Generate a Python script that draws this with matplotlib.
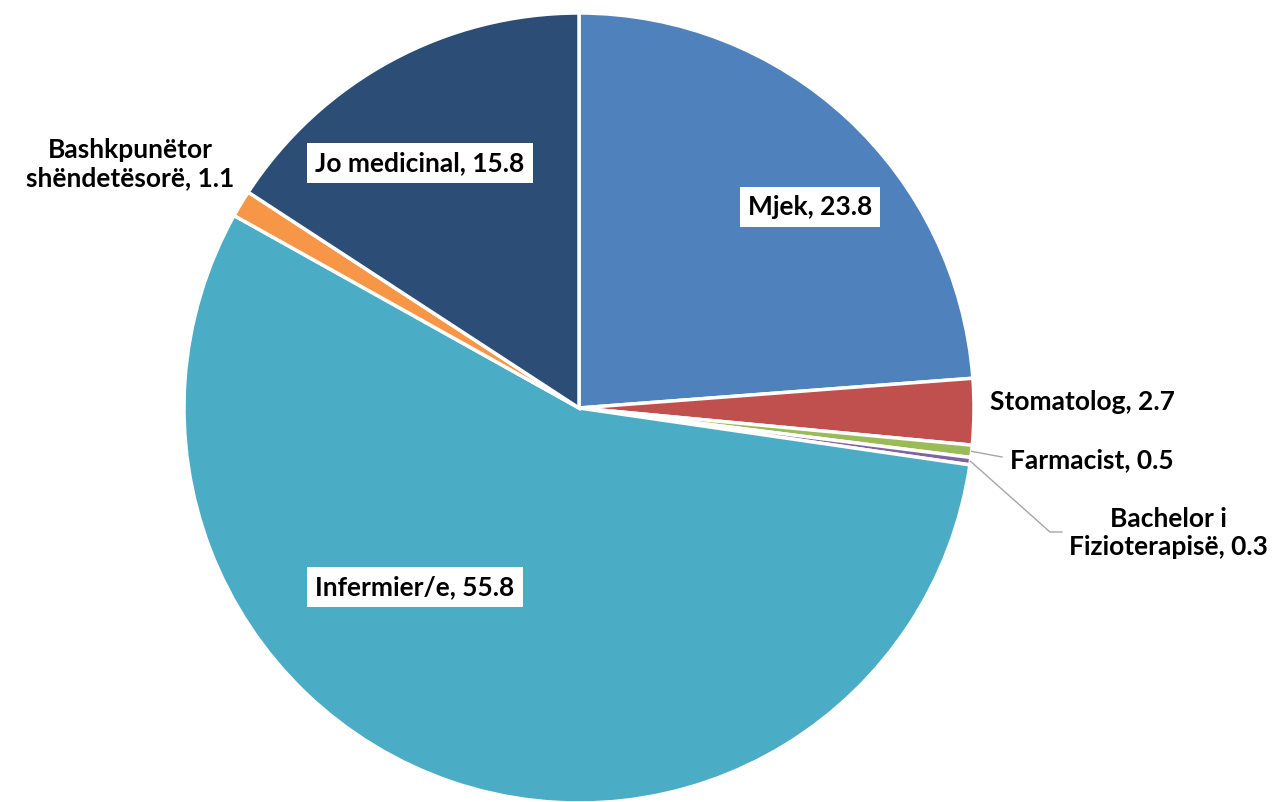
import numpy as np
import matplotlib
matplotlib.use('Agg')
import matplotlib.pyplot as plt

# data
labels = ['Mjek', 'Stomatolog', 'Farmacist', 'Bachelor i\nFizioterapisë',
          'Infermier/e', 'Bashkpunëtor\nshëndetësorë', 'Jo medicinal']
values = [23.8, 2.7, 0.5, 0.3, 55.8, 1.1, 15.8]
colors = ['#4F81BD', '#C0504D', '#9BBB59', '#8064A2', '#4BACC6', '#F79646', '#2C4D75']

W, H = 1275, 802
cx, cy, r = 579, H - 408, 395

fig = plt.figure(figsize=(W / 100, H / 100), dpi=100)
ax = fig.add_axes([0, 0, 1, 1])
ax.set_xlim(0, W)
ax.set_ylim(0, H)
ax.set_aspect('equal')
ax.axis('off')

ax.pie(values, colors=colors, startangle=90, counterclock=False,
       center=(cx, cy), radius=r, frame=True,
       wedgeprops=dict(edgecolor='white', linewidth=2.5))

font = dict(family=['Lato', 'DejaVu Sans'], fontweight='bold', fontsize=19, color='black')
box = dict(boxstyle='square,pad=0.3', facecolor='white', edgecolor='none')

# label placement (pixel coords, y from top)
inside = {0: (810, 207), 4: (415, 587), 6: (420, 163)}
outside = {1: (990, 402, 'left'), 2: (1010, 460, 'left'),
           3: (1168, 533, 'center'), 5: (130, 164, 'center')}

for i, (lab, v) in enumerate(zip(labels, values)):
    txt = f'{lab}, {v}'
    if i in inside:
        x, y = inside[i]
        ax.text(x, H - y, txt, ha='center', va='center', bbox=box, **font)
    else:
        x, y, ha = outside[i]
        ax.text(x, H - y, txt, ha=ha, va='center', multialignment='center',
                linespacing=1.2, **font)

# leader lines for the thin slices
cum = np.cumsum([0] + values)
for i, pts in [(2, [(1002, 457)]), (3, [(1050, 532), (1062, 532)])]:
    mid = 90 - (cum[i] + values[i] / 2) / 100 * 360
    a = np.deg2rad(mid)
    x0, y0 = cx + r * np.cos(a), cy + r * np.sin(a)
    xs = [x0] + [p[0] for p in pts]
    ys = [y0] + [H - p[1] for p in pts]
    ax.plot(xs, ys, color='#A6A6A6', linewidth=1)

plt.savefig('out.png', dpi=100)
plt.close()
